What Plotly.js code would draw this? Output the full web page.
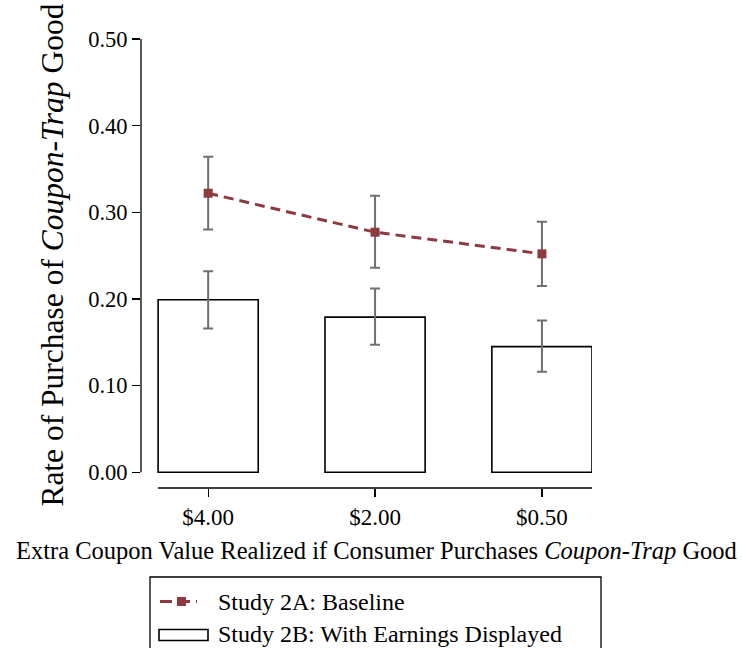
<!DOCTYPE html>
<html>
<head>
<meta charset="utf-8">
<script src="https://cdn.plot.ly/plotly-3.0.1.min.js"></script>
<style>html,body{margin:0;padding:0;background:#fff;}</style>
</head>
<body>
<div id="chart" style="width:743px;height:648px;"></div>
<script>
// Data
var categories = ["$4.00", "$2.00", "$0.50"];
// Study 2A: Baseline (line)
var baselineName = "Study 2A: Baseline";
var baselineRate = [0.322, 0.277, 0.252];
var baselineLow  = [0.280, 0.236, 0.215];
var baselineHigh = [0.364, 0.319, 0.289];
// Study 2B: With Earnings Displayed (bars)
var earningsName = "Study 2B: With Earnings Displayed";
var earningsRate = [0.199, 0.179, 0.145];
var earningsLow  = [0.166, 0.147, 0.116];
var earningsHigh = [0.232, 0.212, 0.175];
var yTicks = [0, 0.1, 0.2, 0.3, 0.4, 0.5];

function diff(a, b) { return a.map(function (v, i) { return v - b[i]; }); }

var serif = "Liberation Serif";
var maroon = "#8f3a40";
var errGray = "#6f6f6f";

var barTrace = {
  type: "bar",
  name: earningsName,
  x: categories,
  y: earningsRate,
  width: 0.6,
  marker: { color: "#ffffff", line: { color: "#000000", width: 1.6 } },
  error_y: {
    type: "data", symmetric: false,
    array: diff(earningsHigh, earningsRate),
    arrayminus: diff(earningsRate, earningsLow),
    color: errGray, thickness: 2, width: 5
  },
  showlegend: false,
  hoverinfo: "skip"
};

var lineTrace = {
  type: "scatter",
  mode: "lines+markers",
  name: baselineName,
  x: categories,
  y: baselineRate,
  line: { color: maroon, width: 3, dash: "10px,6px" },
  marker: { color: maroon, symbol: "square", size: 9 },
  error_y: {
    type: "data", symmetric: false,
    array: diff(baselineHigh, baselineRate),
    arrayminus: diff(baselineRate, baselineLow),
    color: errGray, thickness: 2, width: 5
  },
  showlegend: false,
  hoverinfo: "skip"
};

// helpers to convert pixel offsets into paper coordinates for the legend box
var W = 743, H = 648, mL = 141, mR = 151, mT = 39, mB = 160;
var pw = W - mL - mR, ph = H - mT - mB;
function px(x) { return (x - mL) / pw; }
function py(y) { return (H - mB - y) / ph; }

var legendFont = { family: serif, size: 24, color: "#000" };

var layout = {
  width: W, height: H,
  margin: { l: mL, r: mR, t: mT, b: mB, pad: 0, autoexpand: false },
  paper_bgcolor: "#ffffff",
  plot_bgcolor: "#ffffff",
  font: { family: serif, color: "#000000", size: 22 },
  showlegend: false,
  xaxis: {
    type: "category",
    range: [-0.4025, 2.3],
    showgrid: false, zeroline: false, showline: false,
    ticks: "outside", ticklen: 8, tickwidth: 1.3, tickcolor: "#000",
    tickfont: { family: serif, size: 23, color: "#000" },
    fixedrange: true
  },
  yaxis: {
    range: [-0.0182, 0.5],
    tickvals: yTicks,
    tickformat: ".2f",
    showgrid: false, zeroline: false, showline: false,
    ticks: "outside", ticklen: 8, tickwidth: 1.3, tickcolor: "#000",
    tickfont: { family: serif, size: 22.5, color: "#000" },
    fixedrange: true
  },
  shapes: [
    { type: "line", xref: "paper", yref: "y", x0: 0, x1: 0, y0: 0, y1: 0.5,
      line: { color: "#000", width: 1.3 } },
    { type: "line", xref: "x", yref: "paper", x0: -0.3, x1: 2.3, y0: 0, y1: 0,
      line: { color: "#000", width: 1.3 } },
    // legend frame
    { type: "rect", xref: "paper", yref: "paper",
      x0: px(150), x1: px(601), y0: py(577), y1: py(660),
      line: { color: "#000", width: 1.3 }, fillcolor: "rgba(0,0,0,0)" },
    // legend key: dashed line with square marker
    { type: "line", xref: "paper", yref: "paper",
      x0: px(160), x1: px(197), y0: py(601.5), y1: py(601.5),
      line: { color: maroon, width: 3, dash: "12px,6px" } },
    { type: "rect", xref: "paper", yref: "paper",
      x0: px(177), x1: px(186), y0: py(597), y1: py(606),
      line: { color: maroon, width: 0 }, fillcolor: maroon },
    // legend key: bar rectangle
    { type: "rect", xref: "paper", yref: "paper",
      x0: px(159), x1: px(208), y0: py(629.5), y1: py(640.5),
      line: { color: "#000", width: 1.6 }, fillcolor: "#ffffff" }
  ],
  annotations: [
    { xref: "paper", yref: "y", x: px(53), y: 0.25, textangle: -90,
      xanchor: "center", yanchor: "middle", showarrow: false,
      text: "Rate of Purchase of <i>Coupon-Trap</i> Good",
      font: { family: serif, size: 31.5, color: "#000" } },
    { xref: "paper", yref: "paper", x: px(376), y: py(550),
      xanchor: "center", yanchor: "middle", showarrow: false,
      text: "Extra Coupon Value Realized if Consumer Purchases <i>Coupon-Trap</i> Good",
      font: { family: serif, size: 24.5, color: "#000" } },
    { xref: "paper", yref: "paper", x: px(216), y: py(601.5),
      xanchor: "left", yanchor: "middle", showarrow: false,
      text: baselineName, font: legendFont },
    { xref: "paper", yref: "paper", x: px(216), y: py(634),
      xanchor: "left", yanchor: "middle", showarrow: false,
      text: earningsName, font: legendFont }
  ]
};

Plotly.newPlot("chart", [barTrace, lineTrace], layout, { displayModeBar: false, staticPlot: true });
</script>
</body>
</html>
